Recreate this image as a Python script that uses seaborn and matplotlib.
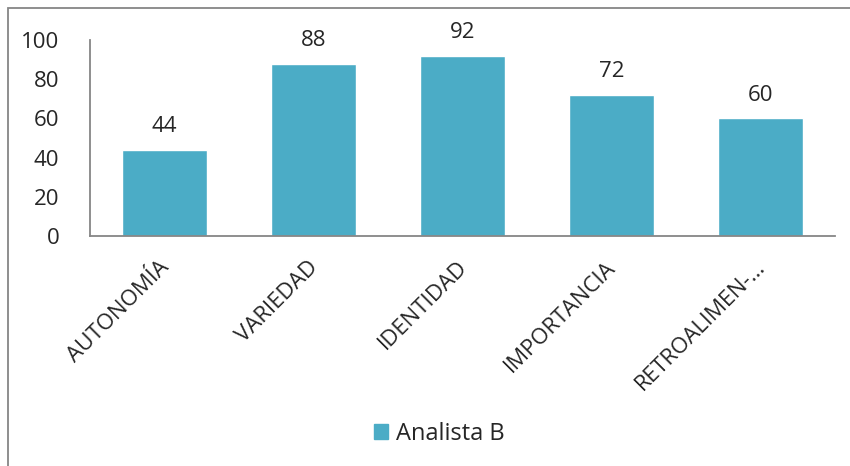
import pandas as pd
import matplotlib.pyplot as plt
import seaborn as sns
from matplotlib.patches import Rectangle, Patch
from matplotlib.transforms import ScaledTranslation

categorias = ['AUTONOMÍA', 'VARIEDAD', 'IDENTIDAD', 'IMPORTANCIA', 'RETROALIMEN-…']
valores = [44, 88, 92, 72, 60]
serie = 'Analista B'

df = pd.DataFrame({'cat': categorias, 'val': valores})

sns.set_style('white')
plt.rcParams['font.family'] = ['Open Sans', 'DejaVu Sans']
color = '#4BACC6'

fig = plt.figure(figsize=(8.5, 4.66), dpi=100)
ax = fig.add_axes([90/850, 1-236/466, (835-90)/850, (236-40)/466])
sns.barplot(data=df, x='cat', y='val', color=color, width=0.57, saturation=1, ax=ax)

ax.set_ylim(0, 100)
ax.set_xlim(-0.5, 4.5)
ax.set_yticks(range(0, 101, 20))
ax.set_xlabel('')
ax.set_ylabel('')
for s in ['top', 'right']:
    ax.spines[s].set_visible(False)
for s in ['left', 'bottom']:
    ax.spines[s].set_color('#868686')
    ax.spines[s].set_linewidth(1.3)
ax.tick_params(axis='y', labelsize=16, length=0, pad=22)
ax.tick_params(axis='x', labelsize=16, length=0, pad=15)
shift = ScaledTranslation(-6/100, 0, fig.dpi_scale_trans)
for lbl in ax.get_xticklabels():
    lbl.set_rotation(45)
    lbl.set_ha('right')
    lbl.set_rotation_mode('anchor')
    lbl.set_transform(lbl.get_transform() + shift)

for i, v in enumerate(valores):
    ax.annotate(str(v), (i, v), xytext=(0, 9), textcoords='offset points',
                ha='center', va='bottom', fontsize=16)

# chart border
fig.patches.append(Rectangle((8/850, -0.01), 1.0, 1 - 8/466 + 0.01, transform=fig.transFigure,
                             fill=False, edgecolor='#868686', linewidth=1.3))

fig.legend(handles=[Patch(color=color, label=serie)], loc='center',
           bbox_to_anchor=(0.517, 1-434/466), frameon=False, fontsize=17,
           handlelength=0.6, handleheight=0.6, handletextpad=0.35)

plt.savefig('out.png', dpi=100)
